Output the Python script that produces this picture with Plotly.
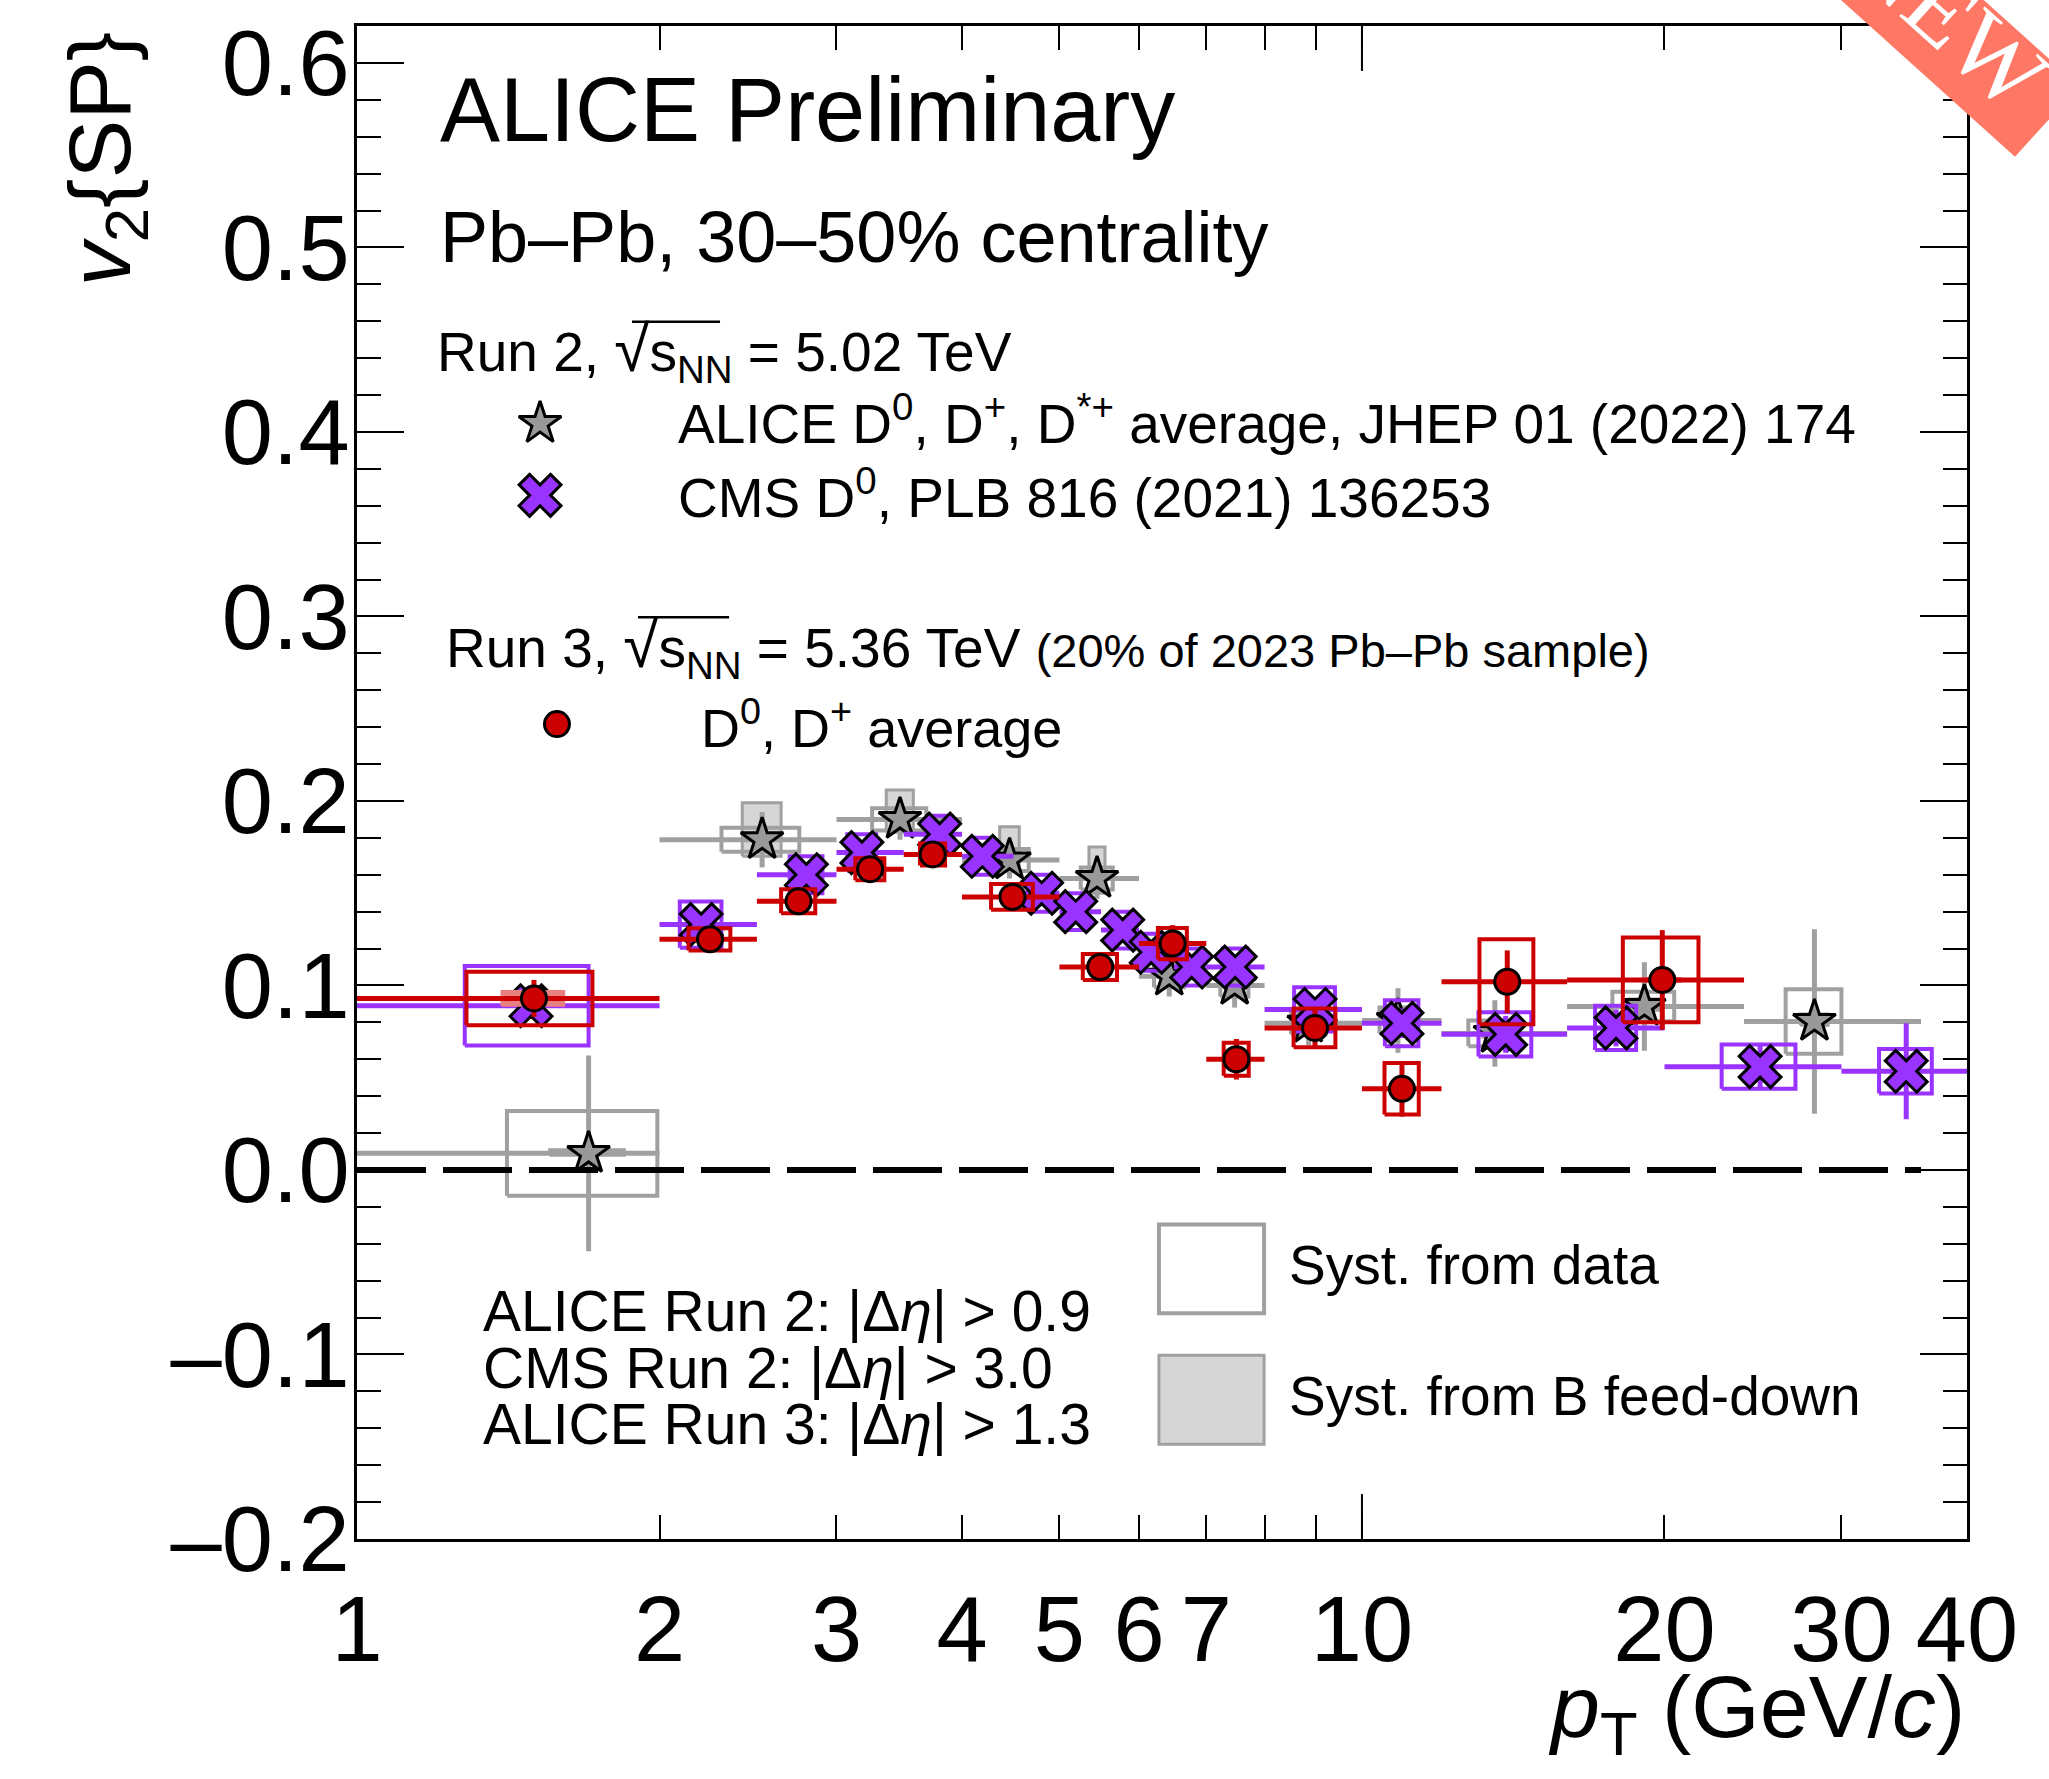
import math
import plotly.graph_objects as go

# ---------------- data ----------------
# ALICE Run 2 (D0, D+, D*+ average), sqrt(sNN)=5.02 TeV
alice_pt = [1.70, 2.53, 3.47, 4.46, 5.45, 6.43, 7.47, 8.85, 10.86, 13.56, 19.1, 28.2]
alice_lo = [1, 2, 3, 4, 5, 6, 7, 8, 10, 12, 16, 24]
alice_hi = [2, 3, 4, 5, 6, 7, 8, 10, 12, 16, 24, 36]
alice_v2 = [0.009, 0.179, 0.190, 0.168, 0.158, 0.105, 0.100, 0.0795, 0.081, 0.074, 0.0886, 0.0805]
alice_stat = [0.053, 0.015, 0.011, 0.010, 0.011, 0.011, 0.012, 0.012, 0.0175, 0.018, 0.024, 0.050]
alice_syst = [0.023, 0.0065, 0.006, 0.006, 0.006, 0.006, 0.006, 0.006, 0.007, 0.007, 0.008, 0.0175]
alice_syst_dpt = [0.29, 0.225, 0.215, 0.20, 0.20, 0.22, 0.24, 0.35, 0.45, 0.80, 1.35, 1.80]
alice_fd_up = [0.002, 0.020, 0.016, 0.018, 0.017, 0.008, 0.006, 0.004, 0.004, 0.004, 0.004, 0.004]
alice_fd_dn = [0.001, 0.009, 0.007, 0.005, 0.008, 0.003, 0.002, 0.002, 0.002, 0.002, 0.002, 0.002]

# CMS D0, sqrt(sNN)=5.02 TeV
cms_pt = [1.49, 2.20, 2.80, 3.18, 3.80, 4.19, 4.80, 5.19, 5.78, 6.17, 6.77, 7.48, 8.98, 10.96, 13.9, 17.9, 24.9, 34.8]
cms_lo = [1, 2, 2.5, 3, 3.5, 4, 4.5, 5, 5.5, 6, 6.5, 7, 8, 10, 12, 16, 20, 30]
cms_hi = [2, 2.5, 3, 3.5, 4, 4.5, 5, 5.5, 6, 6.5, 7, 8, 10, 12, 16, 20, 30, 40]
cms_v2 = [0.089, 0.133, 0.160, 0.172, 0.182, 0.170, 0.150, 0.140, 0.130, 0.118, 0.110, 0.110, 0.087, 0.0795, 0.0735, 0.077, 0.056, 0.0535]
cms_stat = [0.006, 0.004, 0.004, 0.004, 0.004, 0.004, 0.005, 0.005, 0.005, 0.006, 0.006, 0.006, 0.006, 0.008, 0.010, 0.010, 0.012, 0.026]
cms_syst = [0.0215, 0.0125, 0.010, 0.010, 0.010, 0.010, 0.010, 0.010, 0.010, 0.010, 0.010, 0.010, 0.012, 0.0125, 0.012, 0.012, 0.012, 0.012]

# ALICE Run 3 (D0, D+ average), sqrt(sNN)=5.36 TeV
r3_pt = [1.50, 2.245, 2.75, 3.24, 3.74, 4.49, 5.49, 6.48, 7.50, 8.98, 10.96, 13.95, 19.9]
r3_lo = [1, 2, 2.5, 3, 3.5, 4, 5, 6, 7, 8, 10, 12, 16]
r3_hi = [2, 2.5, 3, 3.5, 4, 5, 6, 7, 8, 10, 12, 16, 24]
r3_v2 = [0.093, 0.125, 0.1456, 0.163, 0.171, 0.148, 0.110, 0.1227, 0.060, 0.077, 0.044, 0.102, 0.103]
r3_stat = [0.010, 0.005, 0.005, 0.005, 0.005, 0.006, 0.007, 0.010, 0.011, 0.010, 0.015, 0.017, 0.027]
r3_syst = [0.0145, 0.006, 0.0065, 0.006, 0.006, 0.007, 0.007, 0.0085, 0.009, 0.0105, 0.014, 0.023, 0.023]
r3_fd = [0.004, 0.001, 0.001, 0.001, 0.001, 0.001, 0.001, 0.001, 0.001, 0.001, 0.001, 0.001, 0.001]

x_ticks = [1, 2, 3, 4, 5, 6, 7, 8, 9, 10, 20, 30, 40]
x_ticktext = ["1", "2", "3", "4", "5", "6", "7", "", "", "10", "20", "30", "40"]
y_ticks = [-0.2, -0.1, 0.0, 0.1, 0.2, 0.3, 0.4, 0.5, 0.6]
y_ticktext = ["\u20130.2", "\u20130.1", "0.0", "0.1", "0.2", "0.3", "0.4", "0.5", "0.6"]

# ---------------- style ----------------
FONT = "Liberation Sans"
GRAY = "#a0a0a0"
GRAY_FILL = "#d6d6d6"
STAR_FILL = "#999999"
PURPLE = "#9933ff"
RED = "#cc0000"
RED_FILL = "#e88080"
BOX_FRAC_CMS = 0.21
BOX_FRAC_R3 = 0.215
FD_FRAC = 0.5
X_RANGE = [0, math.log10(40)]
Y_RANGE = [-0.2, 0.62]
W, H = 2049, 1779
ML, MR, MT, MB = 357, 82, 24, 240


def rects(xc, hw, yc, up, dn):
    xs, ys = [], []
    for x, w, y, u, d in zip(xc, hw, yc, up, dn):
        xs += [x - w, x + w, x + w, x - w, x - w, None]
        ys += [y - d, y - d, y + u, y + u, y - d, None]
    return xs, ys


def box_trace(xs, ys, color, width, fill=None):
    return go.Scatter(
        x=xs, y=ys, mode="lines", line=dict(color=color, width=width),
        fill="toself" if fill else "none", fillcolor=fill, hoverinfo="skip",
        showlegend=False)


def point_trace(pt, v, lo, hi, stat, color, symbol, size, fillc):
    return go.Scatter(
        x=pt, y=v, mode="markers",
        marker=dict(symbol=symbol, size=size, color=fillc,
                    line=dict(color="black", width=3)),
        error_x=dict(type="data", symmetric=False,
                     array=[h - p for h, p in zip(hi, pt)],
                     arrayminus=[p - l for l, p in zip(lo, pt)],
                     color=color, thickness=5, width=0),
        error_y=dict(type="data", array=stat, color=color, thickness=5, width=0),
        cliponaxis=True, hoverinfo="skip", showlegend=False)


fig = go.Figure()

# ALICE Run 2
fd_hw = [w * FD_FRAC for w in alice_syst_dpt]
xs, ys = rects(alice_pt, fd_hw, alice_v2, alice_fd_up, alice_fd_dn)
fig.add_trace(box_trace(xs, ys, GRAY, 3, GRAY_FILL))
xs, ys = rects(alice_pt, alice_syst_dpt, alice_v2, alice_syst, alice_syst)
fig.add_trace(box_trace(xs, ys, GRAY, 4))
fig.add_trace(point_trace(alice_pt, alice_v2, alice_lo, alice_hi, alice_stat,
                          GRAY, "star", 32, STAR_FILL))

# CMS
cms_hw = [BOX_FRAC_CMS * (h - l) for l, h in zip(cms_lo, cms_hi)]
xs, ys = rects(cms_pt, cms_hw, cms_v2, cms_syst, cms_syst)
fig.add_trace(box_trace(xs, ys, PURPLE, 4))
fig.add_trace(point_trace(cms_pt, cms_v2, cms_lo, cms_hi, cms_stat,
                          PURPLE, "x", 37, PURPLE))

# ALICE Run 3
r3_hw = [BOX_FRAC_R3 * (h - l) for l, h in zip(r3_lo, r3_hi)]
xs, ys = rects(r3_pt, [w * FD_FRAC for w in r3_hw], r3_v2, r3_fd, r3_fd)
fig.add_trace(box_trace(xs, ys, RED_FILL, 2, RED_FILL))
xs, ys = rects(r3_pt, r3_hw, r3_v2, r3_syst, r3_syst)
fig.add_trace(box_trace(xs, ys, RED, 4))
fig.add_trace(point_trace(r3_pt, r3_v2, r3_lo, r3_hi, r3_stat,
                          RED, "circle", 25, RED))

# zero line
fig.add_trace(go.Scatter(x=[x_ticks[0], alice_hi[-1]], y=[0, 0], mode="lines",
                         line=dict(color="black", width=6, dash="69px,17px"),
                         hoverinfo="skip", showlegend=False))

# longer decade tick at 10 (bottom and top)
plot_h = H - MT - MB
long_tick = 45 * (Y_RANGE[1] - Y_RANGE[0]) / plot_h
for y0, y1 in [(Y_RANGE[0], Y_RANGE[0] + long_tick), (Y_RANGE[1] - long_tick, Y_RANGE[1])]:
    fig.add_trace(go.Scatter(x=[10, 10], y=[y0, y1], mode="lines",
                             line=dict(color="black", width=2),
                             hoverinfo="skip", showlegend=False))

# legend markers (overlay axes in plot-area fractions)
leg = [("star", 32, STAR_FILL, 0.1137, 0.7373),
       ("x", 37, PURPLE, 0.1137, 0.6898),
       ("circle", 25, RED, 0.1242, 0.5386)]
for sym, sz, col, lx, ly in leg:
    fig.add_trace(go.Scatter(x=[lx], y=[ly], mode="markers", xaxis="x2", yaxis="y2",
                             marker=dict(symbol=sym, size=sz, color=col,
                                         line=dict(color="black", width=3)),
                             hoverinfo="skip", showlegend=False, cliponaxis=False))

fig.update_layout(
    width=W, height=H,
    margin=dict(l=ML, r=MR, t=MT, b=MB),
    paper_bgcolor="white", plot_bgcolor="white",
    showlegend=False,
    font=dict(family=FONT, color="black"),
    xaxis=dict(type="log", range=X_RANGE, showline=True, linewidth=3, linecolor="black",
               mirror="allticks", ticks="inside", ticklen=24, tickwidth=2, tickcolor="black",
               tickvals=x_ticks, ticktext=x_ticktext, tickfont=dict(size=92, family=FONT),
               showgrid=False, zeroline=False, ticklabelstandoff=9),
    yaxis=dict(range=Y_RANGE, showline=True, linewidth=3, linecolor="black",
               mirror="allticks", ticks="inside", ticklen=47, tickwidth=2, tickcolor="black",
               tickvals=y_ticks, ticktext=y_ticktext, tickfont=dict(size=92, family=FONT),
               showgrid=False, zeroline=False, ticklabelstandoff=-14,
               minor=dict(dtick=0.02, ticks="inside", ticklen=24, tickwidth=2,
                          tickcolor="black", showgrid=False)),
    xaxis2=dict(overlaying="x", range=[0, 1], visible=False, anchor="y2"),
    yaxis2=dict(overlaying="y", range=[0, 1], visible=False, anchor="x2"),
)


def ann(text, x, y, size, xanchor="left", yanchor="middle", **kw):
    fig.add_annotation(text=text, x=x, y=y, xref="paper", yref="paper",
                       xanchor=xanchor, yanchor=yanchor, showarrow=False,
                       font=dict(size=size, family=kw.pop("family", FONT),
                                 color=kw.pop("color", "black")), **kw)


sq = "<span style='font-size:64px'>\u221a</span>s<sub>NN</sub>"
ann("ALICE Preliminary", 0.0503, 0.9446, 90)
ann("Pb\u2013Pb, 30\u201350% centrality", 0.0503, 0.8607, 72)
ann("Run 2, " + sq + " = 5.02 TeV", 0.0484, 0.7848, 55)
ann("ALICE D<sup>0</sup>, D<sup>+</sup>, D<sup>*+</sup> average, JHEP 01 (2022) 174", 0.198, 0.7393, 55)
ann("CMS D<sup>0</sup>, PLB 816 (2021) 136253", 0.198, 0.6904, 55)
ann("Run 3, " + sq + " = 5.36 TeV <span style='font-size:47px'>(20% of 2023 Pb\u2013Pb sample)</span>",
    0.0540, 0.5888, 55)
ann("D<sup>0</sup>, D<sup>+</sup> average", 0.2124, 0.5386, 54)
ann("ALICE Run 2: |\u0394<i>\u03b7</i>| > 0.9", 0.077, 0.1505, 57)
ann("CMS Run 2: |\u0394<i>\u03b7</i>| > 3.0", 0.077, 0.1129, 57)
ann("ALICE Run 3: |\u0394<i>\u03b7</i>| > 1.3", 0.077, 0.0759, 57)
ann("Syst. from data", 0.5776, 0.1809, 55)
ann("Syst. from B feed-down", 0.5776, 0.0944, 55)

# vinculum of the square-root signs
for x0, x1, yv in [(0.1708, 0.2255, 0.8046), (0.1745, 0.2311, 0.6092)]:
    fig.add_shape(type="line", xref="paper", yref="paper", x0=x0, x1=x1, y0=yv, y1=yv,
                  line=dict(color="black", width=2.5))

# axis titles
ann("<i>v</i><sub>2</sub>{SP}", -0.1565, 0.912, 88, xanchor="center", textangle=-90)
ann("<i>p</i><sub>T</sub> (GeV/<i>c</i>)", 1.0, -0.115, 88, xanchor="right")

# syst legend boxes
fig.add_shape(type="rect", xref="paper", yref="paper", x0=0.4981, x1=0.5634, y0=0.1492, y1=0.2079,
              line=dict(color=GRAY, width=4), fillcolor="rgba(0,0,0,0)")
fig.add_shape(type="rect", xref="paper", yref="paper", x0=0.4981, x1=0.5634, y0=0.0627, y1=0.1215,
              line=dict(color=GRAY, width=3), fillcolor=GRAY_FILL)

# "NEW" ribbon in the corner
fig.add_shape(type="path", xref="paper", yref="paper",
              path="M 0.8770 1.0601 L 1.0298 0.9135 L 1.0696 0.9604 L 0.9168 1.1069 Z",
              fillcolor="#ff7866", line=dict(width=0), layer="above")
ann("NEW", 0.9894, 1.0059, 98, xanchor="center", textangle=42,
    family="Liberation Serif", color="white")

fig.write_html("out.html")
